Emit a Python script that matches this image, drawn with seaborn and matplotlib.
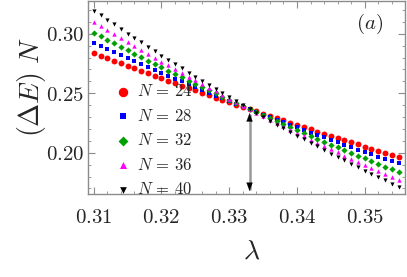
import matplotlib
matplotlib.use('Agg')
import numpy as np
import pandas as pd
import matplotlib.pyplot as plt
import seaborn as sns
from matplotlib.ticker import MultipleLocator, FuncFormatter

# ===============================
# 数据
# ===============================
lam = [0.310, 0.311, 0.312, 0.313, 0.314, 0.315, 0.316, 0.317, 0.318, 0.319,
       0.320, 0.321, 0.322, 0.323, 0.324, 0.325, 0.326, 0.327, 0.328, 0.329,
       0.330, 0.331, 0.332, 0.333, 0.334, 0.335, 0.336, 0.337, 0.338, 0.339,
       0.340, 0.341, 0.342, 0.343, 0.344, 0.345, 0.346, 0.347, 0.348, 0.349,
       0.350, 0.351, 0.352, 0.353, 0.354, 0.355]

gap_n24 = [0.2838, 0.2816, 0.2795, 0.2773, 0.2752, 0.2731, 0.2710, 0.2689, 0.2668, 0.2647,
           0.2626, 0.2605, 0.2585, 0.2564, 0.2544, 0.2524, 0.2504, 0.2484, 0.2464, 0.2444,
           0.2424, 0.2405, 0.2385, 0.2366, 0.2347, 0.2328, 0.2308, 0.2290, 0.2271, 0.2252,
           0.2233, 0.2215, 0.2196, 0.2178, 0.2160, 0.2142, 0.2124, 0.2106, 0.2088, 0.2070,
           0.2052, 0.2035, 0.2018, 0.2000, 0.1983, 0.1966]
gap_n28 = [0.2925, 0.2899, 0.2873, 0.2847, 0.2822, 0.2796, 0.2771, 0.2746, 0.2721, 0.2696,
           0.2671, 0.2647, 0.2623, 0.2599, 0.2575, 0.2551, 0.2527, 0.2504, 0.2480, 0.2457,
           0.2434, 0.2411, 0.2389, 0.2366, 0.2344, 0.2321, 0.2299, 0.2277, 0.2256, 0.2234,
           0.2213, 0.2192, 0.2170, 0.2150, 0.2129, 0.2108, 0.2088, 0.2067, 0.2047, 0.2027,
           0.2008, 0.1988, 0.1968, 0.1949, 0.1930, 0.1911]
gap_n32 = [0.3008, 0.2978, 0.2948, 0.2919, 0.2890, 0.2860, 0.2831, 0.2803, 0.2774, 0.2746,
           0.2717, 0.2689, 0.2661, 0.2634, 0.2606, 0.2579, 0.2551, 0.2524, 0.2498, 0.2471,
           0.2444, 0.2418, 0.2392, 0.2366, 0.2340, 0.2315, 0.2289, 0.2264, 0.2239, 0.2214,
           0.2189, 0.2165, 0.2140, 0.2116, 0.2092, 0.2068, 0.2045, 0.2021, 0.1998, 0.1975,
           0.1952, 0.1929, 0.1907, 0.1884, 0.1862, 0.1840]
gap_n36 = [0.3097, 0.3063, 0.3029, 0.2995, 0.2962, 0.2929, 0.2896, 0.2863, 0.2830, 0.2798,
           0.2766, 0.2734, 0.2702, 0.2670, 0.2639, 0.2608, 0.2577, 0.2546, 0.2515, 0.2485,
           0.2455, 0.2425, 0.2395, 0.2366, 0.2337, 0.2308, 0.2279, 0.2250, 0.2222, 0.2194,
           0.2166, 0.2138, 0.2110, 0.2083, 0.2056, 0.2029, 0.2002, 0.1976, 0.1949, 0.1923,
           0.1897, 0.1872, 0.1846, 0.1821, 0.1796, 0.1771]
gap_n40 = [0.3195, 0.3156, 0.3117, 0.3078, 0.3040, 0.3002, 0.2964, 0.2927, 0.2890, 0.2853,
           0.2816, 0.2780, 0.2744, 0.2708, 0.2672, 0.2637, 0.2602, 0.2568, 0.2533, 0.2499,
           0.2466, 0.2432, 0.2399, 0.2366, 0.2333, 0.2301, 0.2269, 0.2237, 0.2206, 0.2175,
           0.2144, 0.2113, 0.2083, 0.2053, 0.2023, 0.1993, 0.1964, 0.1935, 0.1907, 0.1878,
           0.1850, 0.1822, 0.1795, 0.1768, 0.1741, 0.1714]

series_labels = [r'$N\,=\,24$', r'$N\,=\,28$', r'$N\,=\,32$', r'$N\,=\,36$', r'$N\,=\,40$']
series_values = [gap_n24, gap_n28, gap_n32, gap_n36, gap_n40]
lam_cross = 0.333
y_cross = 0.2357

# 样式
colors = ['#ff0000', '#0000ff', '#00a000', '#ff00ff', '#000000']
markers = ['o', 's', 'D', '^', 'v']
sizes = [18, 9, 10, 10, 9]

# ===============================
# 绘图
# ===============================
sns.set_style('ticks')
plt.rcParams['mathtext.fontset'] = 'cm'
plt.rcParams['font.family'] = ['DejaVu Serif']

fig = plt.figure(figsize=(4.07, 2.77), dpi=100)
ax = fig.add_axes([0.217, 0.300, 0.779, 0.698])

for lab, vals, c, m, s in zip(series_labels, series_values, colors, markers, sizes):
    df = pd.DataFrame({'lam': lam, 'gap': vals})
    sns.scatterplot(data=df, x='lam', y='gap', color=c, marker=m, s=s,
                    linewidth=0, label=lab, ax=ax, zorder=3)

xlim = (0.3092, 0.3560)
ylim = (0.1654, 0.3279)
ax.set_xlim(*xlim)
ax.set_ylim(*ylim)

# 双向箭头
ax.plot([lam_cross, lam_cross], [ylim[0] + 0.004, y_cross - 0.004],
        color='#999999', lw=1.8, zorder=2)
head = dict(arrowstyle='-|>,head_length=0.6,head_width=0.22', color='black', lw=0.1)
ax.annotate('', xy=(lam_cross, y_cross), xytext=(lam_cross, y_cross - 0.006),
            arrowprops=head, zorder=4)
ax.annotate('', xy=(lam_cross, ylim[0]), xytext=(lam_cross, ylim[0] + 0.006),
            arrowprops=head, zorder=4)

# 坐标轴
ax.xaxis.set_major_locator(MultipleLocator(0.01))
ax.xaxis.set_minor_locator(MultipleLocator(0.002))
ax.yaxis.set_major_locator(MultipleLocator(0.05))
ax.yaxis.set_minor_locator(MultipleLocator(0.01))
fmt = FuncFormatter(lambda v, _: f'${v:.2f}$')
ax.xaxis.set_major_formatter(fmt)
ax.yaxis.set_major_formatter(fmt)

spine_col = '#8c8c8c'
for sp in ax.spines.values():
    sp.set_visible(True)
    sp.set_color(spine_col)
    sp.set_linewidth(1.0)
ax.tick_params(which='both', direction='in', top=True, right=True, color=spine_col)
ax.tick_params(which='major', length=5, width=0.8, labelsize=15)
ax.tick_params(which='minor', length=2.5, width=0.6)
ax.tick_params(axis='x', which='major', pad=10)
ax.tick_params(axis='y', which='major', pad=3)

ax.set_xlabel(r'$\lambda$', fontsize=20)
ax.set_ylabel(r'$(\Delta E)\ N$', fontsize=20)
ax.xaxis.set_label_coords(0.516, -0.225)
ax.yaxis.set_label_coords(-0.128, 0.55)

ax.text(0.888, 0.880, r'$(a)$', transform=ax.transAxes, fontsize=15,
        ha='center', va='center')

ax.legend(loc='upper left', bbox_to_anchor=(0.084, 0.572), frameon=False,
          fontsize=12, markerscale=1.6, handlelength=1.0, handletextpad=0.3,
          labelspacing=0.45, borderpad=0, borderaxespad=0)

fig.savefig('out.png', dpi=100)
plt.close(fig)
